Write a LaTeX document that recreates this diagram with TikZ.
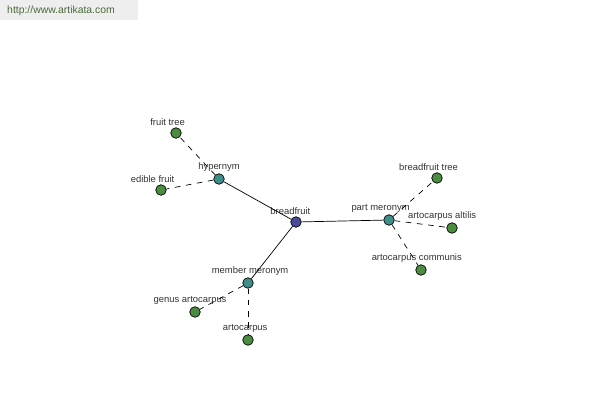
\documentclass[tikz,border=0pt]{standalone}
\usepackage{fontspec}
\setmainfont{Liberation Sans}
\usepackage{xcolor}
\usetikzlibrary{positioning}
\definecolor{artHead}{HTML}{EEEEEE}
\definecolor{artText}{HTML}{4A6A3A}
\definecolor{rootBlue}{HTML}{4A4C9A}
\definecolor{relTeal}{HTML}{3E8E8A}
\definecolor{leafGreen}{HTML}{4C8C40}
\definecolor{lblGray}{HTML}{333333}

\begin{document}
\begin{tikzpicture}[
    x=0.025cm, y=-0.025cm,
    dot/.style={circle, draw=black, line width=0.5pt, inner sep=0pt, minimum size=7.5pt},
    root/.style={dot, fill=rootBlue},
    rel/.style={dot, fill=relTeal},
    leaf/.style={dot, fill=leafGreen},
    lbl/.style={font=\fontsize{6.7}{8}\selectfont, text=lblGray, inner sep=1pt},
    link/.style={line width=0.5pt},
    sub/.style={line width=0.5pt, dashed, dash pattern=on 4pt off 4pt}
  ]
    \useasboundingbox (0,0) rectangle (600,400);
    \fill[artHead] (0,0) rectangle (138,20);
    \node[font=\fontsize{7.4}{9}\selectfont, text=artText] (site) at (61,11) {http://www.artikata.com};

    % root and relations
    \node[root, label={[lbl,xshift=-4pt]above:breadfruit}] (bread) at (296,222) {};
    \node[rel, label={[lbl]above:hypernym}] (hyper) at (219,179) {};
    \node[rel, label={[lbl,xshift=-6pt]above:part meronym}] (part) at (389,220) {};
    \node[rel, label={[lbl,xshift=1.5pt]above:member meronym}] (member) at (248,283) {};

    % leaves
    \node[leaf, label={[lbl,xshift=-6pt]above:fruit tree}] (fruittree) at (176,133) {};
    \node[leaf, label={[lbl,xshift=-6pt]above:edible fruit}] (edible) at (161,190) {};
    \node[leaf, label={[lbl,xshift=-6pt]above:breadfruit tree}] (bftree) at (437,178) {};
    \node[leaf, label={[lbl,xshift=-7pt]above:artocarpus altilis}] (altilis) at (452,228) {};
    \node[leaf, label={[lbl,xshift=-3pt]above:artocarpus communis}] (communis) at (421,270) {};
    \node[leaf, label={[lbl,xshift=-3.5pt]above:genus artocarpus}] (genus) at (195,312) {};
    \node[leaf, label={[lbl,xshift=-2pt]above:artocarpus}] (arto) at (248,340) {};

    \draw[link] (bread) -- (hyper);
    \draw[link] (bread) -- (part);
    \draw[link] (bread) -- (member);

    \draw[sub] (hyper) -- (fruittree);
    \draw[sub] (hyper) -- (edible);
    \draw[sub] (part) -- (bftree);
    \draw[sub] (part) -- (altilis);
    \draw[sub] (part) -- (communis);
    \draw[sub] (member) -- (genus);
    \draw[sub] (member) -- (arto);
  \end{tikzpicture}
\end{document}
